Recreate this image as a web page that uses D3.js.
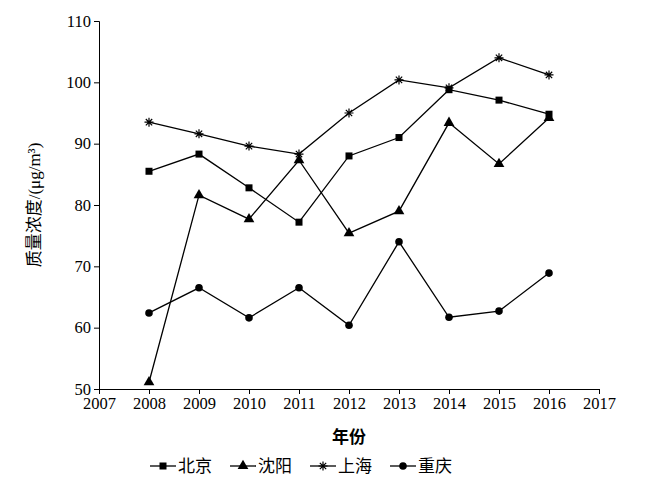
<!DOCTYPE html>
<html><head><meta charset="utf-8">
<script src="https://cdn.jsdelivr.net/npm/d3@7"></script>
<style>body{margin:0;background:#fff}text{font-family:"Liberation Serif","Noto Sans CJK SC",serif}</style>
</head><body><svg id="c" width="650" height="483"></svg>
<script>
const years=[2008,2009,2010,2011,2012,2013,2014,2015,2016];
const beijing=[85.5,88.3,82.8,77.2,88,91,98.8,97.1,94.8];
const shenyang=[51.1,81.6,77.7,87.3,75.4,79,93.4,86.7,94.2];
const shanghai=[93.5,91.6,89.6,88.3,95,100.4,99.1,104,101.2];
const chongqing=[62.4,66.5,61.6,66.5,60.4,74,61.7,62.7,68.9];
const xTicks=[2007,2008,2009,2010,2011,2012,2013,2014,2015,2016,2017];
const yTicks=[50,60,70,80,90,100,110];
const series=[{name:"北京",v:beijing,s:"sq"},{name:"沈阳",v:shenyang,s:"tri"},{name:"上海",v:shanghai,s:"star"},{name:"重庆",v:chongqing,s:"circ"}];
const svg=d3.select("#c");
const x=d3.scaleLinear().domain([2007,2017]).range([99,599]);
const y=d3.scaleLinear().domain([50,110]).range([389,21]);
svg.append("g").attr("transform","translate(0,389)").call(d3.axisBottom(x).tickValues(xTicks).tickFormat(d3.format("d")).tickSize(5))
 .call(g=>g.selectAll("text").attr("font-size",16.5).attr("fill","#000"));
svg.append("g").attr("transform","translate(99,0)").call(d3.axisLeft(y).tickValues(yTicks).tickSize(5))
 .call(g=>g.selectAll("text").attr("font-size",16.5).attr("fill","#000"));
svg.selectAll(".domain,.tick line").attr("stroke","#000");
const line=d3.line().x((d,i)=>x(years[i])).y(d=>y(d));
function marker(g,s,cx,cy){
 if(s==="sq")g.append("rect").attr("x",cx-3.5).attr("y",cy-3.5).attr("width",7).attr("height",7).attr("fill","#000");
 else if(s==="tri")g.append("path").attr("d",d3.symbol(d3.symbolTriangle,50)()).attr("transform",`translate(${cx},${cy})`).attr("fill","#000");
 else g.append("circle").attr("cx",cx).attr("cy",cy).attr("r",3.8).attr("fill","#000");
}
function asterisk(g,cx,cy){
 const r=4.5;let d="";for(let a=0;a<180;a+=45){const t=a*Math.PI/180;d+=`M${cx-r*Math.cos(t)},${cy-r*Math.sin(t)}L${cx+r*Math.cos(t)},${cy+r*Math.sin(t)}`;}
 g.append("path").attr("d",d).attr("stroke","#000").attr("stroke-width",1.2);
}
series.forEach(se=>{
 const g=svg.append("g");
 g.append("path").attr("d",line(se.v)).attr("fill","none").attr("stroke","#000").attr("stroke-width",1.3);
 se.v.forEach((d,i)=>{ if(se.s==="star")asterisk(g,x(years[i]),y(d)); else marker(g,se.s,x(years[i]),y(d)); });
});
svg.append("text").attr("x",349).attr("y",443).attr("text-anchor","middle").attr("font-size",17).attr("font-weight","bold").text("年份");
svg.append("text").attr("transform","translate(40,205) rotate(-90)").attr("text-anchor","middle").attr("font-size",17).text("质量浓度/(μg/m³)");
const lx=[150,230,310,390];
series.forEach((se,i)=>{
 const g=svg.append("g");const x0=lx[i];
 g.append("line").attr("x1",x0).attr("x2",x0+26).attr("y1",466).attr("y2",466).attr("stroke","#000").attr("stroke-width",1.3);
 if(se.s==="star")asterisk(g,x0+13,466); else marker(g,se.s,x0+13,466);
 g.append("text").attr("x",x0+28).attr("y",472).attr("font-size",17).text(se.name);
});
</script></body></html>
